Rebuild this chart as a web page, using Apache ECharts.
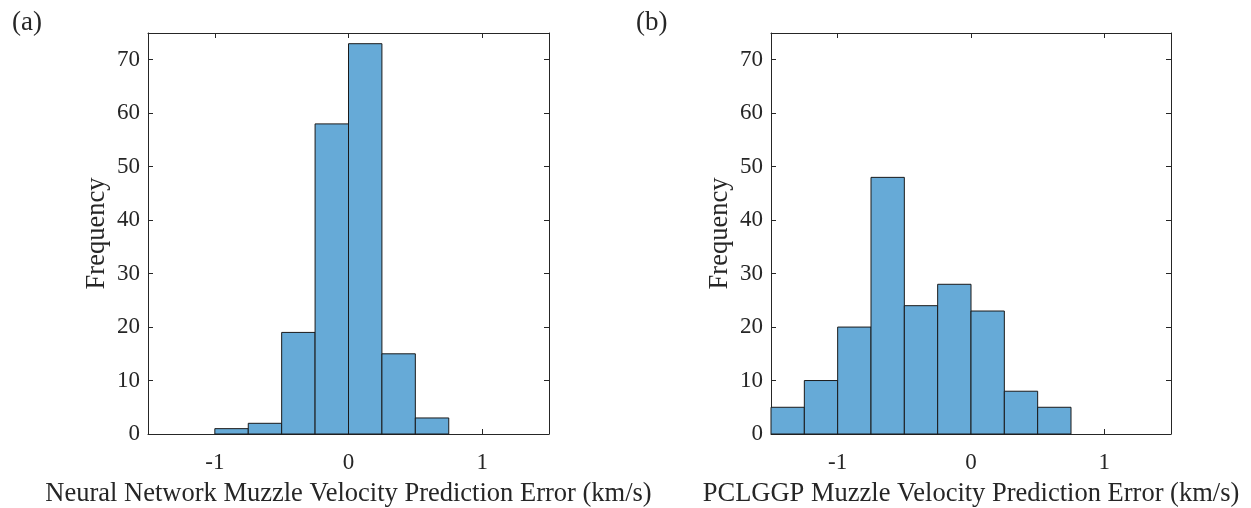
<!DOCTYPE html>
<html>
<head>
<meta charset="utf-8">
<script src="https://cdn.jsdelivr.net/npm/echarts@6/dist/echarts.min.js"></script>
<style>
html,body{margin:0;padding:0;background:#fff;}
#chart{width:1251px;height:508px;}
</style>
</head>
<body>
<div id="chart"></div>
<script>
// Data
const panelLabels = ['(a)', '(b)'];
const xTitles = ['Neural Network Muzzle Velocity Prediction Error (km/s)', 'PCLGGP Muzzle Velocity Prediction Error (km/s)'];
const yTitle = 'Frequency';
const binWidth = 0.25;
const nnBinStarts = [-1, -0.75, -0.5, -0.25, 0, 0.25, 0.5];
const nnCounts = [1, 2, 19, 58, 73, 15, 3];
const gpBinStarts = [-1.5, -1.25, -1, -0.75, -0.5, -0.25, 0, 0.25, 0.5];
const gpCounts = [5, 10, 20, 48, 24, 28, 23, 8, 5];
const xTicks = [-1, 0, 1];
const yTicks = [0, 10, 20, 30, 40, 50, 60, 70];
const xRange = [-1.5, 1.5];
const yRange = [0, 75];

const FONT = '"Liberation Serif", "Times New Roman", serif';
const TXT = '#262626';
const LINE = '#262626';
const BAR = '#66AAD7';

function histData(starts, counts) {
  return starts.map((s, i) => [s, s + binWidth, counts[i]]);
}
function renderBar(params, api) {
  const p0 = api.coord([api.value(0), api.value(2)]);
  const p1 = api.coord([api.value(1), 0]);
  return {
    type: 'rect',
    shape: { x: p0[0], y: p0[1], width: p1[0] - p0[0], height: p1[1] - p0[1] },
    style: { fill: BAR, stroke: '#1a1a1a', lineWidth: 1 }
  };
}

const grids = [
  { left: 148, right: 702, top: 33, bottom: 74, containLabel: false, outerBoundsMode: 'none' },
  { left: 771, right: 80, top: 33, bottom: 74, containLabel: false, outerBoundsMode: 'none' }
];
const xAxes = [], yAxes = [];
grids.forEach((g, i) => {
  xAxes.push({
    type: 'value', gridIndex: i, min: xRange[0], max: xRange[1], position: 'bottom',
    name: xTitles[i], nameLocation: 'middle', nameGap: 47,
    nameTextStyle: { fontFamily: FONT, fontSize: 26.5, color: TXT },
    axisLine: { show: true, onZero: false, lineStyle: { color: LINE, width: 1 } },
    axisTick: { show: true, inside: true, length: 5, customValues: xTicks, lineStyle: { color: LINE } },
    axisLabel: { customValues: xTicks, fontFamily: FONT, fontSize: 23, color: TXT, margin: 17 },
    splitLine: { show: false }
  });
  xAxes.push({
    type: 'value', gridIndex: i, min: xRange[0], max: xRange[1], position: 'top',
    axisLine: { show: true, onZero: false, lineStyle: { color: LINE, width: 1 } },
    axisTick: { show: true, inside: true, length: 5, customValues: xTicks, lineStyle: { color: LINE } },
    axisLabel: { show: false },
    splitLine: { show: false }
  });
  yAxes.push({
    type: 'value', gridIndex: i, min: yRange[0], max: yRange[1], position: 'left',
    name: yTitle, nameLocation: 'middle', nameGap: 37,
    nameTextStyle: { fontFamily: FONT, fontSize: 26.5, color: TXT },
    axisLine: { show: true, onZero: false, lineStyle: { color: LINE, width: 1 } },
    axisTick: { show: true, inside: true, length: 5, customValues: yTicks, lineStyle: { color: LINE } },
    axisLabel: { customValues: yTicks, fontFamily: FONT, fontSize: 23, color: TXT, margin: 8 },
    splitLine: { show: false }
  });
  yAxes.push({
    type: 'value', gridIndex: i, min: yRange[0], max: yRange[1], position: 'right',
    axisLine: { show: true, onZero: false, lineStyle: { color: LINE, width: 1 } },
    axisTick: { show: true, inside: true, length: 5, customValues: yTicks, lineStyle: { color: LINE } },
    axisLabel: { show: false },
    splitLine: { show: false }
  });
});

const chart = echarts.init(document.getElementById('chart'), null, { renderer: 'canvas' });
chart.setOption({
  backgroundColor: '#fff',
  animation: false,
  title: [
    { text: panelLabels[0], left: 7, top: 4, textStyle: { fontFamily: FONT, fontSize: 27, fontWeight: 'normal', color: TXT } },
    { text: panelLabels[1], left: 631, top: 4, textStyle: { fontFamily: FONT, fontSize: 27, fontWeight: 'normal', color: TXT } }
  ],
  grid: grids,
  xAxis: xAxes,
  yAxis: yAxes,
  series: [
    { type: 'custom', xAxisIndex: 0, yAxisIndex: 0, renderItem: renderBar, data: histData(nnBinStarts, nnCounts), encode: { x: [0, 1], y: 2 } },
    { type: 'custom', xAxisIndex: 2, yAxisIndex: 2, renderItem: renderBar, data: histData(gpBinStarts, gpCounts), encode: { x: [0, 1], y: 2 } }
  ]
});
</script>
</body>
</html>
